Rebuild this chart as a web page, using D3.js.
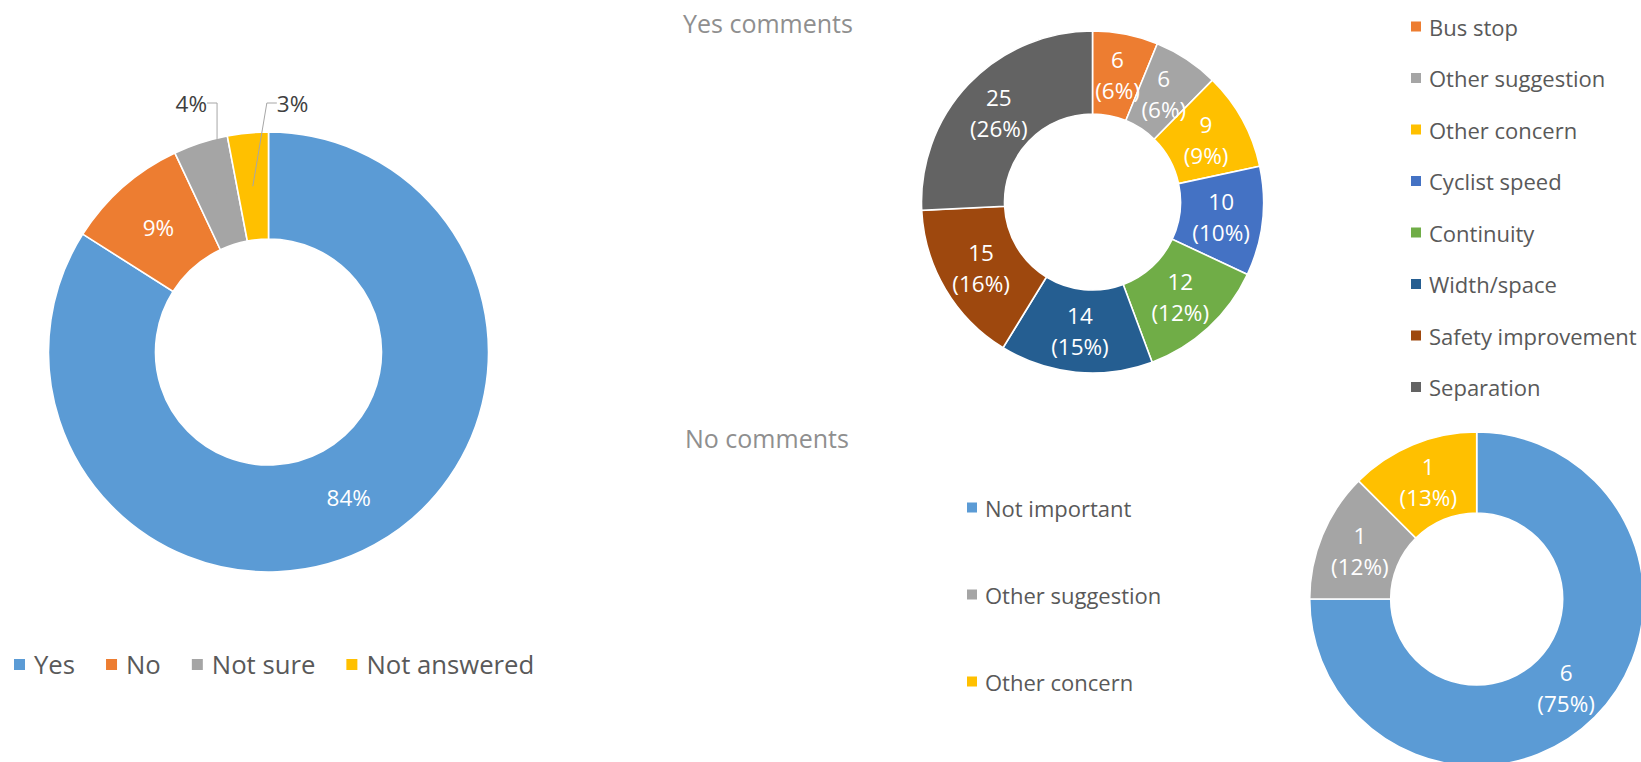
<!DOCTYPE html>
<html>
<head>
<meta charset="utf-8">
<script src="https://cdn.jsdelivr.net/npm/d3@7/dist/d3.min.js"></script>
<style>
  html, body { margin: 0; padding: 0; background: #ffffff; }
  svg { display: block; font-family: "Open Sans", "Lato", sans-serif; }
</style>
</head>
<body>
<svg id="chart" width="1641" height="762"></svg>
<script>
// Overall answers
const overallCategories = ["Yes", "No", "Not sure", "Not answered"];
const overallValues = [84, 9, 4, 3];
const overallLabels = ["84%", "9%", "4%", "3%"];
const overallColors = ["#5B9BD5", "#ED7D31", "#A5A5A5", "#FFC000"];

// Comments from "Yes" answers
const yesTitle = "Yes comments";
const yesCategories = ["Bus stop", "Other suggestion", "Other concern", "Cyclist speed",
                       "Continuity", "Width/space", "Safety improvement", "Separation"];
const yesValues = [6, 6, 9, 10, 12, 14, 15, 25];
const yesPercents = ["6%", "6%", "9%", "10%", "12%", "15%", "16%", "26%"];
const yesColors = ["#ED7D31", "#A5A5A5", "#FFC000", "#4472C4",
                   "#70AD47", "#255E91", "#9E480E", "#636363"];

// Comments from "No" answers
const noTitle = "No comments";
const noCategories = ["Not important", "Other suggestion", "Other concern"];
const noValues = [6, 1, 1];
const noPercents = ["75%", "12%", "13%"];
const noColors = ["#5B9BD5", "#A5A5A5", "#FFC000"];

const svg = d3.select("#chart");
const legendColor = "#595959";
const titleColor = "#8f8f8f";
const labelSize = 22.5;
const rightLegendSize = 22;
const titleSize = 25;
const bottomLegendSize = 25.7;

const pie = d3.pie().sort(null).value(d => d.value);

function donut(g, rows, outer, inner) {
  const arc = d3.arc().innerRadius(inner).outerRadius(outer);
  const mid = d3.arc().innerRadius((inner + outer) / 2).outerRadius((inner + outer) / 2);
  const arcs = pie(rows);
  g.selectAll("path.slice").data(arcs).join("path")
    .attr("class", "slice")
    .attr("d", arc)
    .attr("fill", d => d.data.color)
    .attr("stroke", "#ffffff")
    .attr("stroke-width", 1.6);
  return { arcs, mid };
}

// ---------- Left donut: overall ----------
const overallRows = overallCategories.map((c, i) => ({
  cat: c, value: overallValues[i], label: overallLabels[i], color: overallColors[i]
}));
const gL = svg.append("g").attr("transform", "translate(268.5,352)");
const L = donut(gL, overallRows, 220, 113);

// inside labels for the large slices
L.arcs.forEach((d, i) => {
  const [x, y] = L.mid.centroid(d);
  if (i < 2) {
    gL.append("text")
      .attr("x", x).attr("y", y)
      .attr("text-anchor", "middle")
      .attr("dominant-baseline", "central")
      .attr("font-size", labelSize)
      .attr("fill", "#ffffff")
      .text(d.data.label);
  }
});

// small slices get labels above the ring with leader lines
const outside = [
  { idx: 2, side: -1, elbowDx: 0 },
  { idx: 3, side: 1, elbowDx: 14 }
];
const outsideLabelY = -249;
outside.forEach(o => {
  const d = L.arcs[o.idx];
  const [cx, cy] = L.mid.centroid(d);
  const elbowX = cx + o.elbowDx;
  const textX = elbowX + o.side * 10;
  gL.append("path")
    .attr("d", d3.line()([[textX, outsideLabelY], [elbowX, outsideLabelY], [cx, cy]]))
    .attr("fill", "none")
    .attr("stroke", "#a6a6a6")
    .attr("stroke-width", 1);
  gL.append("text")
    .attr("x", textX)
    .attr("y", outsideLabelY)
    .attr("text-anchor", o.side < 0 ? "end" : "start")
    .attr("dominant-baseline", "central")
    .attr("font-size", labelSize)
    .attr("fill", "#404040")
    .text(d.data.label);
});

// bottom legend for overall answers
const legL = svg.append("g").attr("transform", "translate(14,664.5)");
let lx = 0;
overallRows.forEach(r => {
  legL.append("rect")
    .attr("x", lx).attr("y", -5.5)
    .attr("width", 11).attr("height", 11)
    .attr("fill", r.color);
  const t = legL.append("text")
    .attr("x", lx + 20).attr("y", 0)
    .attr("dominant-baseline", "central")
    .attr("font-size", bottomLegendSize)
    .attr("fill", legendColor)
    .text(r.cat);
  lx += 20 + t.node().getComputedTextLength() + 31;
});

// ---------- two-line value labels ----------
function valueLabels(g, res, percents) {
  res.arcs.forEach((d, i) => {
    const [x, y] = res.mid.centroid(d);
    const t = g.append("text")
      .attr("text-anchor", "middle")
      .attr("font-size", labelSize)
      .attr("fill", "#ffffff");
    t.append("tspan").attr("x", x).attr("y", y - 15.5)
      .attr("dominant-baseline", "central").text(d.data.value);
    t.append("tspan").attr("x", x).attr("y", y + 15.5)
      .attr("dominant-baseline", "central").text("(" + percents[i] + ")");
  });
}

// ---------- Top right donut: yes comments ----------
svg.append("text")
  .attr("x", 683).attr("y", 23)
  .attr("dominant-baseline", "central")
  .attr("font-size", titleSize)
  .attr("fill", titleColor)
  .text(yesTitle);

const yesRows = yesCategories.map((c, i) => ({ cat: c, value: yesValues[i], color: yesColors[i] }));
const gY = svg.append("g").attr("transform", "translate(1092.5,202)");
const Y = donut(gY, yesRows, 171, 88);
valueLabels(gY, Y, yesPercents);

const legY = svg.append("g").attr("transform", "translate(1411,26.5)");
const yStep = 51.5;
yesRows.forEach((r, i) => {
  legY.append("rect")
    .attr("x", 0).attr("y", i * yStep - 5)
    .attr("width", 10).attr("height", 10)
    .attr("fill", r.color);
  legY.append("text")
    .attr("x", 18).attr("y", i * yStep)
    .attr("dominant-baseline", "central")
    .attr("font-size", rightLegendSize)
    .attr("fill", legendColor)
    .text(r.cat);
});

// ---------- Bottom right donut: no comments ----------
svg.append("text")
  .attr("x", 685).attr("y", 437.5)
  .attr("dominant-baseline", "central")
  .attr("font-size", titleSize)
  .attr("fill", titleColor)
  .text(noTitle);

const noRows = noCategories.map((c, i) => ({ cat: c, value: noValues[i], color: noColors[i] }));
const gN = svg.append("g").attr("transform", "translate(1476.7,599)");
const N = donut(gN, noRows, 167, 86);
valueLabels(gN, N, noPercents);

const legN = svg.append("g").attr("transform", "translate(967,507.5)");
const nStep = 87;
noRows.forEach((r, i) => {
  legN.append("rect")
    .attr("x", 0).attr("y", i * nStep - 5)
    .attr("width", 10).attr("height", 10)
    .attr("fill", r.color);
  legN.append("text")
    .attr("x", 18).attr("y", i * nStep)
    .attr("dominant-baseline", "central")
    .attr("font-size", rightLegendSize)
    .attr("fill", legendColor)
    .text(r.cat);
});
</script>
</body>
</html>
